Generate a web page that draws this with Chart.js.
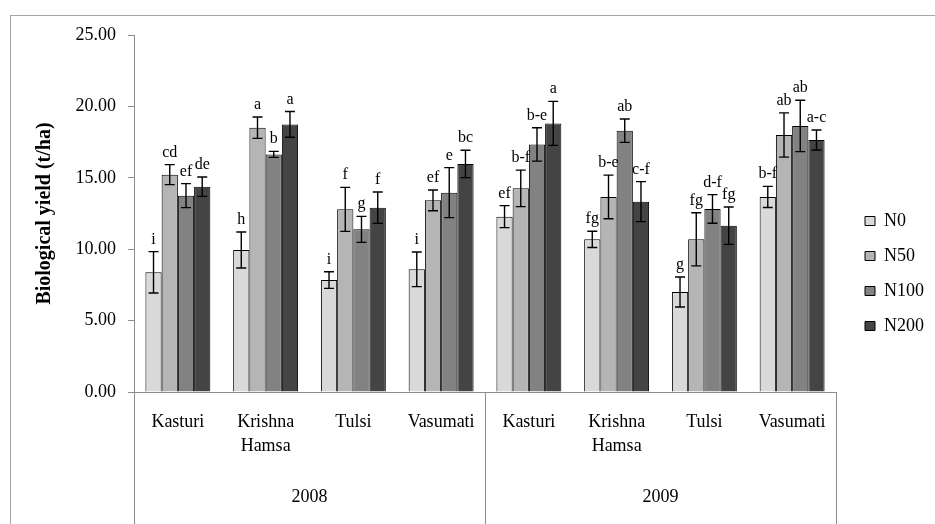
<!DOCTYPE html>
<html>
<head>
<meta charset="utf-8">
<script src="https://cdn.jsdelivr.net/npm/chart.js@4/dist/chart.umd.min.js"></script>
<style>
  body { margin: 0; background: #fff; }
  canvas { display: block; }
</style>
</head>
<body>
<canvas id="grafico" width="935" height="524"></canvas>
<script>
// categorias (variedades) e anos
var variedades = [['Kasturi'], ['Krishna', 'Hamsa'], ['Tulsi'], ['Vasumati'],
                  ['Kasturi'], ['Krishna', 'Hamsa'], ['Tulsi'], ['Vasumati']];
var anos = ['2008', '2009'];
var tratamentos = ['N0', 'N50', 'N100', 'N200'];

// valores (t/ha)
var valN0   = [8.38, 9.94, 7.84, 8.59, 12.28, 10.69, 7.00, 13.66];
var valN50  = [15.22, 18.51, 12.79, 13.42, 14.26, 13.66, 10.69, 18.00];
var valN100 = [13.75, 16.64, 11.39, 13.96, 17.34, 18.30, 12.82, 18.63];
var valN200 = [14.38, 18.74, 12.91, 15.97, 18.81, 13.33, 11.65, 17.65];

// erros
var errN0   = [1.45, 1.26, 0.58, 1.21, 0.77, 0.57, 1.05, 0.74];
var errN50  = [0.70, 0.75, 1.54, 0.73, 1.28, 1.53, 1.86, 1.55];
var errN100 = [0.84, 0.21, 0.91, 1.75, 1.17, 0.82, 1.00, 1.80];
var errN200 = [0.68, 0.90, 1.10, 0.96, 1.54, 1.40, 1.31, 0.70];

// letras de significancia
var letN0   = ['i', 'h', 'i', 'i', 'ef', 'fg', 'g', 'b-f'];
var letN50  = ['cd', 'a', 'f', 'ef', 'b-f', 'b-e', 'fg', 'ab'];
var letN100 = ['ef', 'b', 'g', 'e', 'b-e', 'ab', 'd-f', 'ab'];
var letN200 = ['de', 'a', 'f', 'bc', 'a', 'c-f', 'fg', 'a-c'];

var cores = ['#d9d9d9', '#b5b5b5', '#828282', '#444444'];
var fonte = 'Liberation Serif';

var valores = [valN0, valN50, valN100, valN200];
var erros = [errN0, errN50, errN100, errN200];
var letras = [letN0, letN50, letN100, letN200];

// moldura externa
var moldura = {
    id: 'moldura',
    beforeDraw: function (chart) {
        var ctx = chart.ctx;
        ctx.save();
        ctx.strokeStyle = '#a6a6a6';
        ctx.lineWidth = 1;
        ctx.strokeRect(10.5, 15.5, 2000, 2000);
        ctx.restore();
    },
    afterLayout: function (chart) {
        // empurrar a legenda um pouco para a direita
        chart.legend.left += 12;
        chart.legend.right += 12;
    }
};

// barras de erro + letras
var barrasErro = {
    id: 'barrasErro',
    afterDatasetsDraw: function (chart) {
        var ctx = chart.ctx;
        var y = chart.scales.y;
        ctx.save();
        ctx.strokeStyle = '#000';
        ctx.lineWidth = 1.4;
        ctx.fillStyle = '#000';
        ctx.font = '16px "' + fonte + '"';
        ctx.textAlign = 'center';
        ctx.textBaseline = 'alphabetic';
        chart.data.datasets.forEach(function (ds, i) {
            var meta = chart.getDatasetMeta(i);
            meta.data.forEach(function (bar, j) {
                var v = ds.data[j];
                var e = erros[i][j];
                var yt = y.getPixelForValue(v + e);
                var yb = y.getPixelForValue(v - e);
                ctx.beginPath();
                ctx.moveTo(bar.x, yt); ctx.lineTo(bar.x, yb);
                ctx.moveTo(bar.x - 5, yt); ctx.lineTo(bar.x + 5, yt);
                ctx.moveTo(bar.x - 5, yb); ctx.lineTo(bar.x + 5, yb);
                ctx.stroke();
                ctx.fillText(letras[i][j], bar.x, yt - 8);
            });
        });
        ctx.restore();
    }
};

// linhas separadoras dos anos + rótulos dos anos
var grupos = {
    id: 'grupos',
    afterDraw: function (chart) {
        var ctx = chart.ctx;
        var x = chart.scales.x;
        var n = variedades.length;
        var larg = (x.right - x.left) / n;
        var por = n / anos.length;
        ctx.save();
        ctx.strokeStyle = '#8c8c8c';
        ctx.lineWidth = 1;
        for (var k = 0; k <= anos.length; k++) {
            var px = Math.round(x.left + k * por * larg) + 0.5;
            ctx.beginPath();
            ctx.moveTo(px, x.top);
            ctx.lineTo(px, 524);
            ctx.stroke();
        }
        ctx.fillStyle = '#000';
        ctx.font = '18px "' + fonte + '"';
        ctx.textAlign = 'center';
        ctx.textBaseline = 'middle';
        anos.forEach(function (a, k) {
            ctx.fillText(a, x.left + (k + 0.5) * por * larg, 497);
        });
        ctx.restore();
    }
};

var ctx = document.getElementById('grafico').getContext('2d');

var grafico = new Chart(ctx, {
    type: 'bar',
    data: {
        labels: variedades,
        datasets: tratamentos.map(function (t, i) {
            return {
                label: t,
                data: valores[i],
                backgroundColor: cores[i],
                borderColor: '#000',
                borderWidth: 1,
                barPercentage: 1,
                categoryPercentage: 0.74
            };
        })
    },
    options: {
        responsive: false,
        animation: false,
        devicePixelRatio: 1,
        layout: { padding: { left: 10, top: 35, right: 13, bottom: 12 } },
        plugins: {
            tooltip: { enabled: false },
            legend: {
                position: 'right',
                labels: {
                    boxWidth: 10,
                    boxHeight: 9,
                    padding: 17,
                    color: '#000',
                    font: { family: fonte, size: 18 }
                }
            }
        },
        scales: {
            x: {
                afterFit: function (s) { s.height = 120; },
                grid: { display: true, drawOnChartArea: false, drawTicks: false, color: 'rgba(0,0,0,0)' },
                border: { display: true, color: '#8c8c8c', width: 1 },
                ticks: {
                    color: '#000',
                    padding: 19,
                    maxRotation: 0,
                    autoSkip: false,
                    font: { family: fonte, size: 18, lineHeight: 1.3 }
                }
            },
            y: {
                min: 0,
                max: 25,
                afterFit: function (s) { s.width = 124; },
                grid: { drawOnChartArea: false, tickLength: 6, color: '#8c8c8c' },
                border: { display: true, color: '#8c8c8c', width: 1 },
                ticks: {
                    stepSize: 5,
                    padding: 12,
                    color: '#000',
                    font: { family: fonte, size: 18 },
                    callback: function (v) { return v.toFixed(2); }
                },
                title: {
                    display: true,
                    text: 'Biological yield (t/ha)',
                    color: '#000',
                    padding: { top: 23, bottom: 0 },
                    font: { family: fonte, size: 20, weight: 'bold' }
                }
            }
        }
    },
    plugins: [moldura, barrasErro, grupos]
});
</script>
</body>
</html>
